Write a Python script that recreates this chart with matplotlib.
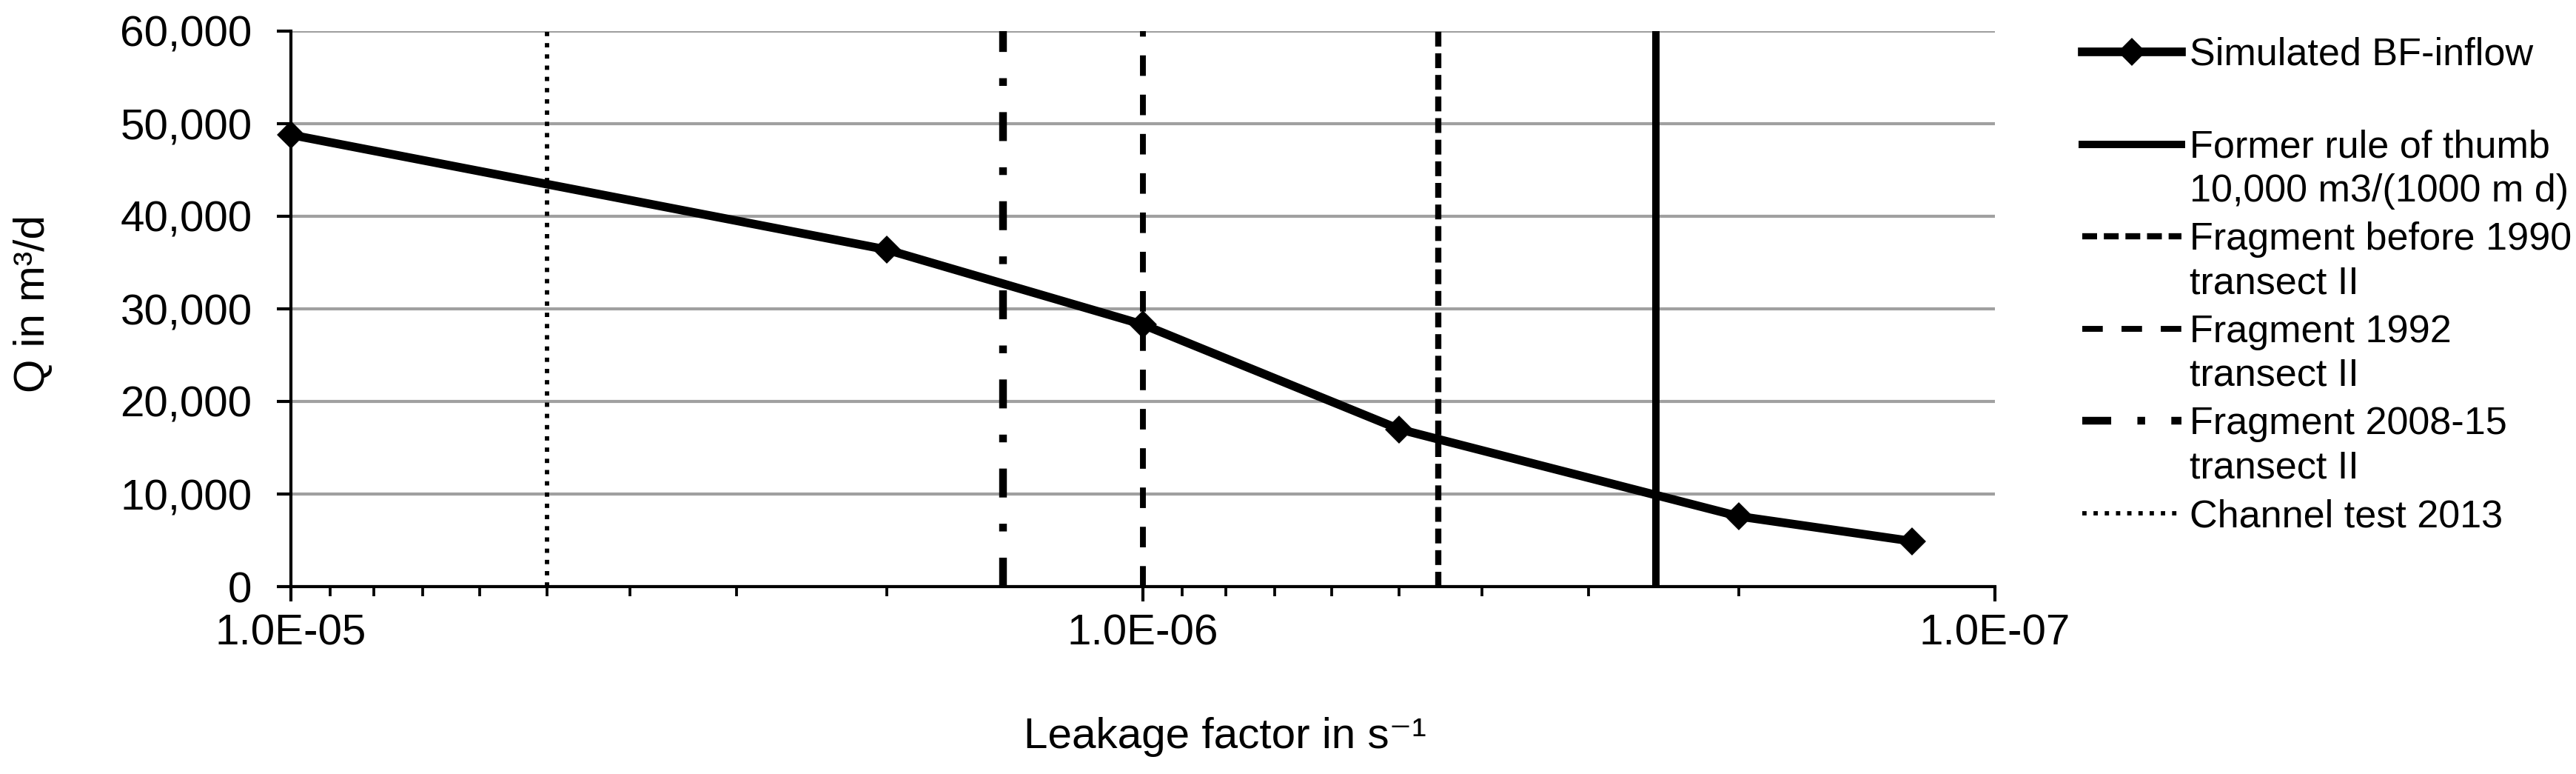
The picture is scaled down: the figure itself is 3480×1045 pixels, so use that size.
import numpy as np
import matplotlib
matplotlib.use('Agg')
import matplotlib.pyplot as plt
from matplotlib.lines import Line2D
from matplotlib.ticker import FixedLocator, FuncFormatter, NullFormatter, LogLocator

plt.rcParams['font.family'] = ['Liberation Sans', 'DejaVu Sans']

# simulated bank filtration inflow vs leakage factor
leakage = [1e-5, 2e-6, 1e-6, 5e-7, 2e-7, 1.25e-7]
inflow = [48800, 36400, 28300, 17000, 7600, 4900]
series_label = 'Simulated BF-inflow'

# reference leakage factors (vertical lines)
ref_labels = ['Former rule of thumb\n10,000 m3/(1000 m d)',
              'Fragment before 1990\ntransect II',
              'Fragment 1992\ntransect II',
              'Fragment 2008-15\ntransect II',
              'Channel test 2013']
ref_leakage = [2.5e-7, 4.5e-7, 1.0e-6, 1.46e-6, 5.0e-6]

x_ticks = [1e-5, 1e-6, 1e-7]
y_ticks = [0, 10000, 20000, 30000, 40000, 50000, 60000]

ref_styles = [
    dict(lw=2.4, ls='-'),
    dict(lw=2.0, ls=(0, (2.4, 1.1))),
    dict(lw=1.9, ls=(0, (3.5, 3.2))),
    dict(lw=2.5, ls=(0, (3.75, 3.4, 1.0, 3.4))),
    dict(lw=1.4, ls=(0, (1.0, 1.6))),
]

W, H = 3480, 1045
fig = plt.figure(figsize=(W / 300, H / 300), dpi=300)
ax = fig.add_axes([393 / W, 253 / H, 2302 / W, 750 / H])

ax.plot(leakage, inflow, color='black', lw=2.8, marker='D', ms=5.5, mew=1,
        clip_on=False, zorder=5)
for x, st in zip(ref_leakage, ref_styles):
    ax.axvline(x, color='black', lw=st['lw'], ls=st['ls'], zorder=3)

ax.set_xscale('log')
ax.set_xlim(1e-5, 1e-7)
ax.set_ylim(0, 60000)
ax.xaxis.set_major_locator(FixedLocator(x_ticks))
ax.xaxis.set_major_formatter(FuncFormatter(lambda v, p: f'{v:.1E}'))
ax.xaxis.set_minor_locator(LogLocator(base=10, subs=np.arange(2, 10)))
ax.xaxis.set_minor_formatter(NullFormatter())
ax.yaxis.set_major_locator(FixedLocator(y_ticks))
ax.yaxis.set_major_formatter(FuncFormatter(lambda v, p: f'{v:,.0f}'))

ax.grid(axis='y', color='#a0a0a0', lw=1.0)
ax.set_axisbelow(True)
for s in ['top', 'right']:
    ax.spines[s].set_visible(False)
for s in ['left', 'bottom']:
    ax.spines[s].set_linewidth(1.0)
    ax.spines[s].set_color('black')

ax.tick_params(axis='y', length=4.6, width=1, pad=8, labelsize=14)
ax.tick_params(axis='x', which='major', length=4.8, width=1, pad=4, labelsize=14)
ax.tick_params(axis='x', which='minor', length=3, width=0.9)

fig.text(45 / W, 1 - 410 / H, 'Q in m³/d', rotation=90, ha='center',
         va='center', fontsize=14)
fig.text(1655 / W, 1 - 995 / H, 'Leakage factor in s⁻¹', ha='center',
         va='center', fontsize=14)

# legend drawn by hand so the handle sits at the first text line
x0, x1, xt = 2813, 2947, 2958
labels = [series_label] + ref_labels
handles = [dict(lw=2.8, ls='-', marker=True)] + ref_styles
for i, (lab, st) in enumerate(zip(labels, handles)):
    cy = 70 + 124.6 * i
    yf = 1 - cy / H
    if st.get('marker'):
        fig.add_artist(Line2D([x0 / W, (x0 + x1) / 2 / W, x1 / W], [yf, yf, yf],
                              transform=fig.transFigure, color='black', lw=st['lw'],
                              marker='D', ms=5.5, mew=1, markevery=[1]))
    else:
        fig.add_artist(Line2D([x0 / W, x1 / W], [yf, yf], transform=fig.transFigure,
                              color='black', lw=st['lw'], ls=st['ls']))
    for k, line in enumerate(lab.split('\n')):
        fig.text(xt / W, 1 - (cy + 18 + 59 * k) / H, line, fontsize=12.5,
                 ha='left', va='baseline')

fig.savefig('out.png', dpi=300)
